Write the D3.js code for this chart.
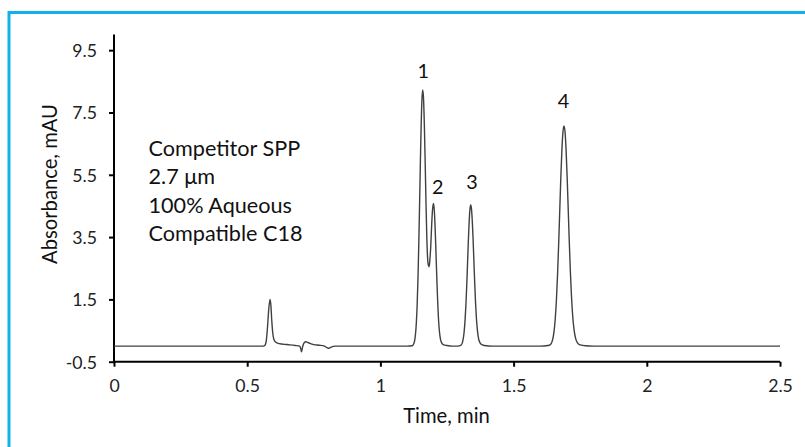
<!DOCTYPE html>
<html><head><meta charset="utf-8">
<script src="https://cdn.jsdelivr.net/npm/d3@7"></script>
<style>html,body{margin:0;padding:0;background:#fff;overflow:hidden}</style>
</head><body>
<svg id="c" width="805" height="447"></svg>
<script>
// ---- data ----
const times = [0, 0.1, 0.2, 0.3, 0.4, 0.5, 0.56, 0.567, 0.572, 0.577, 0.581, 0.586, 0.589, 0.592, 0.596, 0.6, 0.606, 0.62, 0.65, 0.68, 0.697, 0.701, 0.704, 0.708, 0.714, 0.72, 0.724, 0.735, 0.75, 0.77, 0.79, 0.8, 0.806, 0.815, 0.83, 0.9, 1.0, 1.1, 1.119, 1.126, 1.131, 1.135, 1.138, 1.141, 1.144, 1.147, 1.150, 1.153, 1.156, 1.159, 1.162, 1.165, 1.168, 1.171, 1.174, 1.177, 1.180, 1.183, 1.186, 1.189, 1.192, 1.195, 1.199, 1.202, 1.205, 1.208, 1.211, 1.214, 1.217, 1.220, 1.224, 1.229, 1.236, 1.25, 1.27, 1.29, 1.303, 1.309, 1.314, 1.318, 1.321, 1.324, 1.327, 1.330, 1.333, 1.336, 1.339, 1.342, 1.345, 1.348, 1.351, 1.354, 1.357, 1.360, 1.364, 1.369, 1.376, 1.39, 1.42, 1.5, 1.6, 1.629, 1.637, 1.645, 1.651, 1.656, 1.661, 1.665, 1.669, 1.673, 1.677, 1.681, 1.685, 1.689, 1.693, 1.697, 1.701, 1.705, 1.709, 1.713, 1.717, 1.722, 1.727, 1.733, 1.741, 1.75, 1.77, 1.8, 1.9, 2.0, 2.1, 2.2, 2.3, 2.4, 2.5];
const absorbance = [0, 0, 0, 0, 0, 0, 0, 0.03, 0.2, 0.7, 1.2, 1.5, 1.3, 0.85, 0.42, 0.22, 0.13, 0.08, 0.05, 0.02, 0, -0.08, -0.18, -0.02, 0.11, 0.14, 0.13, 0.09, 0.05, 0.03, 0, -0.05, -0.07, -0.03, 0, 0, 0, 0, 0.01, 0.09, 0.32, 0.76, 1.33, 2.15, 3.24, 4.53, 5.88, 7.08, 7.92, 8.22, 7.93, 7.10, 5.94, 4.66, 3.55, 2.85, 2.6, 2.55, 2.8, 3.2, 3.8, 4.3, 4.58, 4.40, 3.89, 3.17, 2.38, 1.65, 1.05, 0.62, 0.3, 0.12, 0.05, 0.02, 0, 0, 0.03, 0.15, 0.43, 0.86, 1.33, 1.93, 2.63, 3.34, 3.95, 4.38, 4.53, 4.40, 4.0, 3.42, 2.72, 2.03, 1.42, 0.95, 0.52, 0.22, 0.08, 0.02, 0, 0, 0, 0.02, 0.04, 0.16, 0.42, 0.84, 1.53, 2.30, 3.24, 4.29, 5.34, 6.24, 6.85, 7.07, 6.88, 6.30, 5.42, 4.40, 3.36, 2.42, 1.65, 0.95, 0.52, 0.24, 0.09, 0.04, 0.01, 0, 0, 0, 0, 0, 0, 0, 0];
const xTicks = [0, 0.5, 1, 1.5, 2, 2.5];
const yTicks = [-0.5, 1.5, 3.5, 5.5, 7.5, 9.5];
const xDomain = [0, 2.5];
const yDomain = [-0.5, 10];
const peakLabels = ["1", "2", "3", "4"];
const peakLabelTimes = [1.161, 1.215, 1.344, 1.687];
const peakLabelValues = [8.85, 5.11, 5.27, 7.87];
const noteLines = ["Competitor SPP", "2.7 \u03bcm", "100% Aqueous", "Compatible C18"];
const xTitle = "Time, min";
const yTitle = "Absorbance, mAU";

// ---- drawing ----
const FONT = "Lato, 'Open Sans', sans-serif";
const svg = d3.select("#c");
svg.append("rect").attr("width", 805).attr("height", 447).attr("fill", "#fff");
svg.append("rect").attr("x", 9).attr("y", 12.5).attr("width", 900).attr("height", 600)
  .attr("fill", "none").attr("stroke", "#11b2e8").attr("stroke-width", 3);

function fit(sample, target) {
  const t = svg.append("text").attr("font-family", FONT).attr("font-size", 100).text(sample);
  const w = t.node().getComputedTextLength();
  t.remove();
  return 100 * target / w;
}
const tickFs = fit("9.5", 23.3) * 1.06;
const noteFs = fit("Competitor SPP", 146) * 1.04;
const titleFs = fit("Time, min", 83.3) * 1.04;

const x = d3.scaleLinear().domain(xDomain).range([114, 780]);
const y = d3.scaleLinear().domain(yDomain).range([361.7, 34.6]);

const fmt = d => String(d);
const xAxis = svg.append("g").attr("transform", `translate(0,${y(-0.5)})`)
  .call(d3.axisBottom(x).tickValues(xTicks).tickSize(5).tickPadding(10).tickFormat(fmt));
const yAxis = svg.append("g").attr("transform", `translate(${x(0)},0)`)
  .call(d3.axisLeft(y).tickValues(yTicks).tickSize(5).tickPadding(12).tickFormat(fmt));
[xAxis, yAxis].forEach(g => {
  g.select(".domain").attr("stroke", "#000").attr("stroke-width", 2);
  g.selectAll(".tick line").attr("stroke", "#000").attr("stroke-width", 2);
  g.selectAll(".tick text").attr("font-family", FONT).attr("font-size", tickFs).attr("fill", "#222");
});
yAxis.selectAll(".tick text").attr("dy", "0.36em");
xAxis.selectAll(".tick text").attr("dy", "0.85em");
xAxis.select(".domain").attr("d", `M${x(0)},0H${x(2.5)}`);
yAxis.select(".domain").attr("d", `M0,${y(10)}V${y(-0.5)}`);

const pts = times.map((t, i) => [t, absorbance[i]]);
svg.append("path").datum(pts)
  .attr("fill", "none").attr("stroke", "#404040").attr("stroke-width", 1.4)
  .attr("stroke-linejoin", "round")
  .attr("d", d3.line().x(d => x(d[0])).y(d => y(d[1])).curve(d3.curveMonotoneX));

svg.selectAll(".pl").data(peakLabels).enter().append("text")
  .attr("x", (d, i) => x(peakLabelTimes[i])).attr("y", (d, i) => y(peakLabelValues[i]))
  .attr("text-anchor", "middle").attr("dy", "0.36em")
  .attr("font-family", FONT).attr("font-size", tickFs * 1.12).attr("fill", "#111").text(d => d);

svg.selectAll(".nl").data(noteLines).enter().append("text")
  .attr("x", 148.5).attr("y", (d, i) => 155.5 + i * 28.5)
  .attr("font-family", FONT).attr("font-size", noteFs).attr("fill", "#111").text(d => d);

svg.append("text").attr("x", 446.5).attr("y", 423.3).attr("text-anchor", "middle")
  .attr("font-family", FONT).attr("font-size", titleFs).attr("fill", "#111").text(xTitle);
svg.append("text").attr("transform", "translate(56.5,184) rotate(-90)").attr("text-anchor", "middle")
  .attr("font-family", FONT).attr("font-size", titleFs).attr("fill", "#111").text(yTitle);
</script>
</body></html>
